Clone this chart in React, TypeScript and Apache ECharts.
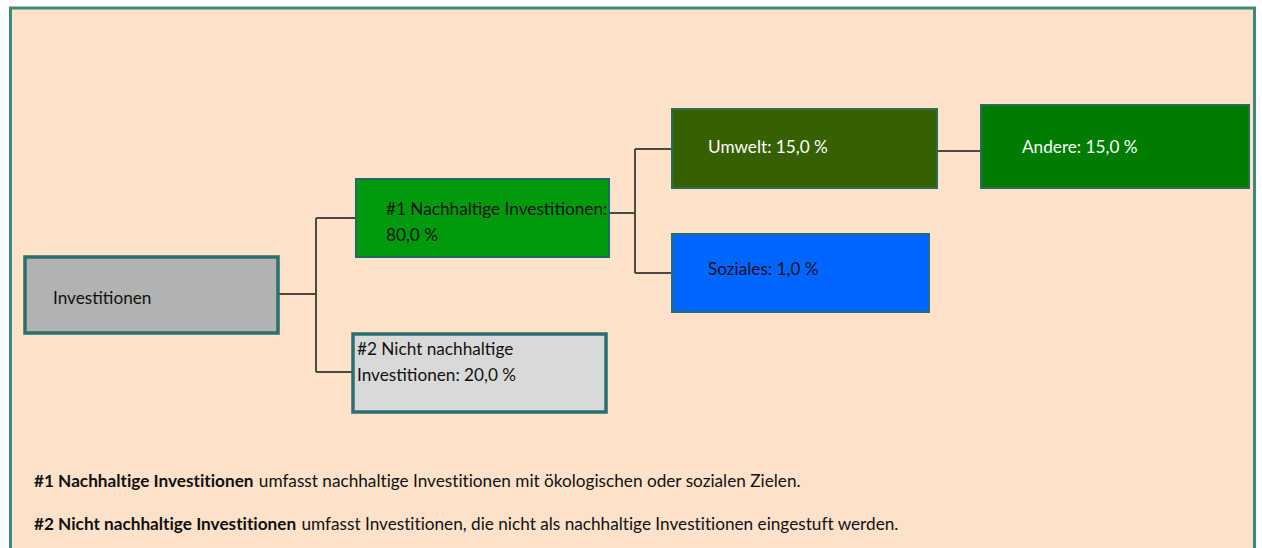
import React, { useEffect, useRef } from "react";
import * as echarts from "echarts";

// ---- data ----
const nodeNames = [
  "Investitionen",
  "#1 Nachhaltige Investitionen",
  "#2 Nicht nachhaltige Investitionen",
  "Umwelt",
  "Soziales",
  "Andere",
];
const nodeShares: (number | null)[] = [null, 80.0, 20.0, 15.0, 1.0, 15.0];
const links: [number, number][] = [
  [0, 1],
  [0, 2],
  [1, 3],
  [1, 4],
  [3, 5],
];
const footnoteTerms = ["#1 Nachhaltige Investitionen", "#2 Nicht nachhaltige Investitionen"];
const footnoteTexts = [
  " umfasst nachhaltige Investitionen mit ökologischen oder sozialen Zielen.",
  " umfasst Investitionen, die nicht als nachhaltige Investitionen eingestuft werden.",
];

// ---- layout / style ----
type Box = {
  x: number; y: number; w: number; h: number;
  fill: string; color: string; stroke: string; lw: number;
  tx: number; ty: number; breakAfter: number; // word index after which to wrap (-1 none)
  portL: number; portR: number; bus?: number;
};
const layout: Box[] = [
  { x: 25, y: 257, w: 253, h: 76, fill: "#b2b2b2", color: "#111", stroke: "#2d6f6e", lw: 3.5, tx: 53, ty: 297, breakAfter: -1, portL: 295, portR: 294, bus: 316 },
  { x: 356, y: 179, w: 253, h: 78, fill: "#009a0c", color: "#111", stroke: "#1d6a6a", lw: 2, tx: 386, ty: 208, breakAfter: 3, portL: 218, portR: 213, bus: 635 },
  { x: 353, y: 334, w: 253, h: 78, fill: "#d9d9d9", color: "#111", stroke: "#2a6f70", lw: 3.5, tx: 357, ty: 348, breakAfter: 3, portL: 372, portR: 372 },
  { x: 672, y: 109, w: 265, h: 79, fill: "#376001", color: "#ffffff", stroke: "#2a6b5c", lw: 2, tx: 708, ty: 146, breakAfter: -1, portL: 149, portR: 151 },
  { x: 672, y: 234, w: 257, h: 78, fill: "#0066ff", color: "#111", stroke: "#2a6b70", lw: 2, tx: 708, ty: 268, breakAfter: -1, portL: 273, portR: 273 },
  { x: 981, y: 105, w: 268, h: 83, fill: "#007d00", color: "#ffffff", stroke: "#2a6b5c", lw: 2, tx: 1022, ty: 146, breakAfter: -1, portL: 151, portR: 151 },
];
const FONT = "Lato, 'Open Sans', sans-serif";
const BOX_FONT_SIZE = 17.2;
const NOTE_FONT_SIZE = 17.2;
const LINE_H = 26;

function fmt(v: number) {
  return v.toFixed(1).replace(".", ",") + " %";
}

function nodeLabel(i: number) {
  const share = nodeShares[i];
  const full = share === null ? nodeNames[i] : nodeNames[i] + ": " + fmt(share);
  const b = layout[i].breakAfter;
  if (b < 0) return full;
  const words = full.split(" ");
  return words.slice(0, b).join(" ") + "\n" + words.slice(b).join(" ");
}

export default function App() {
  const ref = useRef<HTMLDivElement>(null);
  useEffect(() => {
    if (!ref.current) return;
    const chart = echarts.init(ref.current, null, { renderer: "svg" });
    const elements: any[] = [];

    // outer frame
    elements.push({
      type: "rect",
      shape: { x: 10.5, y: 8, width: 1244, height: 560 },
      style: { fill: "#fde1c9", stroke: "#3b8a7f", lineWidth: 3 },
      z: 0,
    });

    // connectors
    const lineStyle = { stroke: "#4a4a44", lineWidth: 2 };
    const parents = Array.from(new Set(links.map((l) => l[0])));
    parents.forEach((p) => {
      const kids = links.filter((l) => l[0] === p).map((l) => l[1]);
      const pb = layout[p];
      const px = pb.x + pb.w;
      if (kids.length === 1) {
        const c = layout[kids[0]];
        elements.push({
          type: "polyline",
          shape: { points: [[px, pb.portR], [c.x, c.portL]] },
          style: { ...lineStyle, fill: null },
          z: 1,
        });
      } else {
        const bus = pb.bus as number;
        elements.push({
          type: "line",
          shape: { x1: px, y1: pb.portR, x2: bus, y2: pb.portR },
          style: lineStyle,
          z: 1,
        });
        const ys = kids.map((k) => layout[k].portL);
        elements.push({
          type: "line",
          shape: { x1: bus, y1: Math.min(...ys), x2: bus, y2: Math.max(...ys) },
          style: lineStyle,
          z: 1,
        });
        kids.forEach((k) => {
          const c = layout[k];
          elements.push({
            type: "line",
            shape: { x1: bus, y1: c.portL, x2: c.x, y2: c.portL },
            style: lineStyle,
            z: 1,
          });
        });
      }
    });

    // boxes
    layout.forEach((b, i) => {
      elements.push({
        type: "rect",
        shape: { x: b.x, y: b.y, width: b.w, height: b.h },
        style: { fill: b.fill, stroke: b.stroke, lineWidth: b.lw },
        z: 2,
      });
      elements.push({
        type: "text",
        style: {
          x: b.tx,
          y: b.ty - LINE_H / 2,
          text: nodeLabel(i),
          fill: b.color,
          font: BOX_FONT_SIZE + "px " + FONT,
          lineHeight: LINE_H,
          verticalAlign: "top",
        },
        z: 3,
      });
    });

    // footnotes
    footnoteTerms.forEach((t, i) => {
      elements.push({
        type: "text",
        style: {
          x: 34,
          y: 480 + i * 43,
          text: "{b|" + t + "}{n|" + footnoteTexts[i] + "}",
          fill: "#111",
          font: NOTE_FONT_SIZE + "px " + FONT,
          verticalAlign: "middle",
          rich: {
            b: { fontWeight: "bold", fontSize: NOTE_FONT_SIZE, fontFamily: FONT, fill: "#111" },
            n: { fontSize: NOTE_FONT_SIZE, fontFamily: FONT, fill: "#111" },
          },
        },
        z: 3,
      });
    });

    chart.setOption({
      animation: false,
      backgroundColor: "#ffffff",
      graphic: { elements },
    });
    return () => chart.dispose();
  }, []);
  return (
    <>
      <style>{"svg text{font-variant-ligatures:none;font-feature-settings:'liga' 0,'clig' 0;}"}</style>
      <div
        ref={ref}
        style={{ position: "fixed", left: 0, top: 0, width: 1262, height: 548 }}
      />
    </>
  );
}
